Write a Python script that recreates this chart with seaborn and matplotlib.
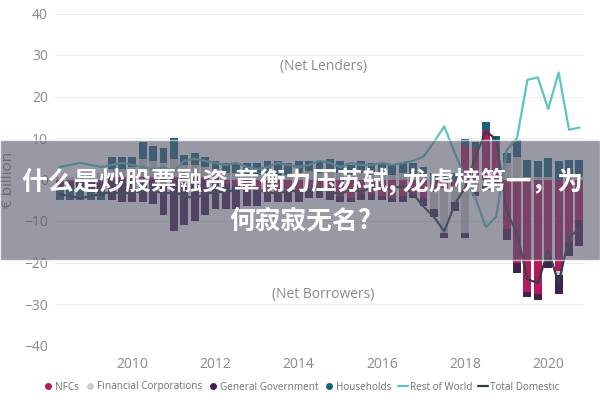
import numpy as np
import pandas as pd
import matplotlib
matplotlib.use("Agg")
import matplotlib.pyplot as plt
from matplotlib.lines import Line2D
from matplotlib.patches import Rectangle
import seaborn as sns

# quarterly sector balances, 2008Q2 .. 2020Q4 (EUR bn)
quarters = pd.period_range("2008Q2", "2020Q4", freq="Q")

nfcs = [-0.5, -0.5, -0.5, -0.5, -0.5, 0.5, 0.5, 0.5,
        0.5, 0.5, 0.5, 0.5, 0.5, 0.5, 0.5, 0.5,
        -1.0, -1.5, -2.0, -2.5, -3.0, -3.5, -3.0, -2.5,
        -2.0, -2.5, -3.0, -4.0, -4.5, -3.5, -3.5, -4.0,
        -4.5, -4.0, -3.5, -4.5, -3.0, -2.0,
        -1.5, 8.0, 7.5, 12.0, 9.0, -12.0,
        -20.0, -27.0, -27.5, -19.0, -22.0, -15.0, -9.7]

fin_corps = [0.5, 0.5, 1.0, 1.0, 1.5, 2.0, 2.0, 2.5,
             4.5, 4.0, 3.5, 4.5, 3.0, 3.0, 2.5, 2.0,
             1.5, 1.5, 1.0, 1.0, 1.5, 1.0, 1.0, 1.5,
             2.0, 1.5, 2.0, 1.5, 1.0, 1.5, 1.0, 1.0,
             1.0, 1.5, 1.0, 1.0, -4.0, -11.0,
             -4.0, -13.0, -3.0, -1.5, -0.5, 4.0,
             5.5, 0.5, 0.5, 0.5, -1.0, 0.5, 0.5]

gen_gov = [-1.5, -1.5, -2.0, -2.5, -3.5, -5.0, -5.5, -5.5,
           -5.5, -6.0, -8.5, -12.5, -11.0, -10.0, -8.5, -7.0,
           -6.0, -5.5, -4.5, -4.0, -2.5, -2.0, -2.5, -3.0,
           -2.5, -2.0, -2.0, -1.5, -1.0, -1.5, -1.5, -1.0,
           -1.0, -1.5, -1.0, -2.0, -2.0, -1.0,
           -2.0, -1.0, -1.0, -1.0, -0.5, -2.5,
           -2.5, -1.3, -1.5, -2.3, -4.5, -3.5, -6.3]

households = [-3.0, -3.0, -2.5, -2.0, -1.0, 3.0, 3.0, 2.5,
              4.0, 3.5, 3.5, 5.0, 2.5, 3.0, 2.5, 2.0,
              2.5, 2.5, 3.0, 3.0, 3.0, 3.5, 3.0, 3.0,
              2.5, 3.0, 3.0, 3.0, 2.5, 3.0, 3.0, 3.0,
              2.5, 2.5, 3.0, 2.0, 1.5, 1.5,
              1.5, 1.7, 1.5, 1.8, 1.4, 2.5,
              4.0, 4.3, 4.0, 4.8, 4.5, 4.3, 4.3]

rest_of_world = [3.0, 3.5, 4.0, 3.5, 3.0, 3.5, 4.0, 3.5,
                 3.0, 2.5, 3.0, 2.0, 4.5, 5.0, 4.5, 4.0,
                 3.5, 4.0, 3.0, 2.5, 3.0, 4.0, 3.5, 3.0,
                 3.5, 4.5, 4.0, 3.0, 4.0, 3.5, 3.5, 4.0,
                 3.5, 4.0, 4.5, 5.5, 9.0,
                 12.8, 6.5, 0.5, -4.5, -11.5, -9.0, 7.0,
                 10.0, 24.0, 24.6, 17.0, 25.8, 12.0, 12.5]

total_domestic = [-3.5, -4.0, -4.5, -4.0, -3.5, -3.0, -3.5, -3.0,
                  -3.0, -2.5, -3.5, -3.0, -4.0, -4.5, -3.5, -3.0,
                  -3.0, -2.5, -2.0, -2.5, -3.0, -3.5, -2.5, -3.0,
                  -2.5, -2.0, -3.0, -3.5, -2.5, -3.0, -2.0, -2.5,
                  -2.0, -1.7, -3.5, -6.5, -9.0,
                  -12.5, -6.0, -2.0, 5.5, 11.6, 9.7, -7.7,
                  -13.0, -24.0, -25.0, -17.0, -25.0, -13.8, -12.0]

bar_series = ["NFCs", "Financial Corporations", "General Government", "Households"]
bar_colors = ["#B5195B", "#CDCDCD", "#41214F", "#18627C"]
row_color = "#5EC4BC"
td_color = "#2F3F45"

df = pd.DataFrame({
    "t": quarters.year + (quarters.quarter - 1) / 4,
    "NFCs": nfcs,
    "Financial Corporations": fin_corps,
    "General Government": gen_gov,
    "Households": households,
    "Rest of World": rest_of_world,
    "Total Domestic": total_domestic,
})

sns.set_theme(style="white")
plt.rcParams["font.family"] = ["Open Sans", "DejaVu Sans"]

fig = plt.figure(figsize=(6, 4), dpi=100)
ax = fig.add_axes([55 / 600, 1 - 345.5 / 400, 529 / 600, 332 / 400])

# stacked columns, positives up and negatives down
pos_bottom = np.zeros(len(df))
neg_bottom = np.zeros(len(df))
for name, col in zip(bar_series, bar_colors):
    v = df[name].to_numpy()
    pos = np.where(v > 0, v, 0)
    neg = np.where(v < 0, v, 0)
    ax.bar(df["t"], pos, bottom=pos_bottom, width=0.19, color=col, linewidth=0, zorder=2)
    ax.bar(df["t"], neg, bottom=neg_bottom, width=0.19, color=col, linewidth=0, zorder=2)
    pos_bottom += pos
    neg_bottom += neg

sns.lineplot(data=df, x="t", y="Rest of World", ax=ax, color=row_color, lw=1.6, zorder=3)
sns.lineplot(data=df, x="t", y="Total Domestic", ax=ax, color=td_color, lw=1.6, zorder=3)

ax.set_xlim(2008.14, 2020.86)
ax.set_ylim(-40, 40)
ax.set_yticks(range(-40, 41, 10))
ax.set_xticks(range(2010, 2021, 2))
ax.tick_params(axis="both", length=0, colors="#8A8A8A", labelsize=10)
ax.tick_params(axis="x", pad=8)
ax.tick_params(axis="y", pad=5)
ax.grid(axis="y", color="#EDEDED", lw=0.8, zorder=0)
ax.grid(axis="x", visible=False)
for s in ax.spines.values():
    s.set_visible(False)
ax.set_xlabel("")
ax.set_ylabel("€ billion", color="#8A8A8A", fontsize=11)
ax.yaxis.set_label_coords((16 - 55) / 529, 0.5)

ax.text(2014.59, 27.3, "(Net Lenders)", ha="center", va="center", color="#8A8A8A", fontsize=10)
ax.text(2014.59, -27.8, "(Net Borrowers)", ha="center", va="center", color="#8A8A8A", fontsize=10)

handles = [Line2D([], [], ls="none", marker="o", markersize=4, color=c) for c in bar_colors]
handles += [Line2D([], [], color=row_color, lw=1.6), Line2D([], [], color=td_color, lw=1.6)]
labels = bar_series + ["Rest of World", "Total Domestic"]
fig.legend(handles, labels, loc="center", bbox_to_anchor=(0.502, 1 - 387 / 400), ncol=6,
           frameon=False, fontsize=7.2, handlelength=1.0, handletextpad=0.2,
           columnspacing=0.6, labelcolor="#707070")

# grey banner with headline laid over the chart
fig.patches.append(Rectangle((0, 1 - 260 / 400), 1, 120 / 400, transform=fig.transFigure,
                             facecolor="#5A5A6E", alpha=0.62, zorder=5))
cjk = ["Noto Sans CJK SC", "DejaVu Sans"]
fig.text(0.505, 1 - 181 / 400, "什么是炒股票融资 章衡力压苏轼, 龙虎榜第一，为", ha="center", va="center",
         color="white", fontsize=18.5, fontweight="bold", family=cjk, zorder=6)
fig.text(0.5, 1 - 221 / 400, "何寂寂无名?", ha="center", va="center",
         color="white", fontsize=18.5, fontweight="bold", family=cjk, zorder=6)

fig.savefig("out.png", dpi=100)
